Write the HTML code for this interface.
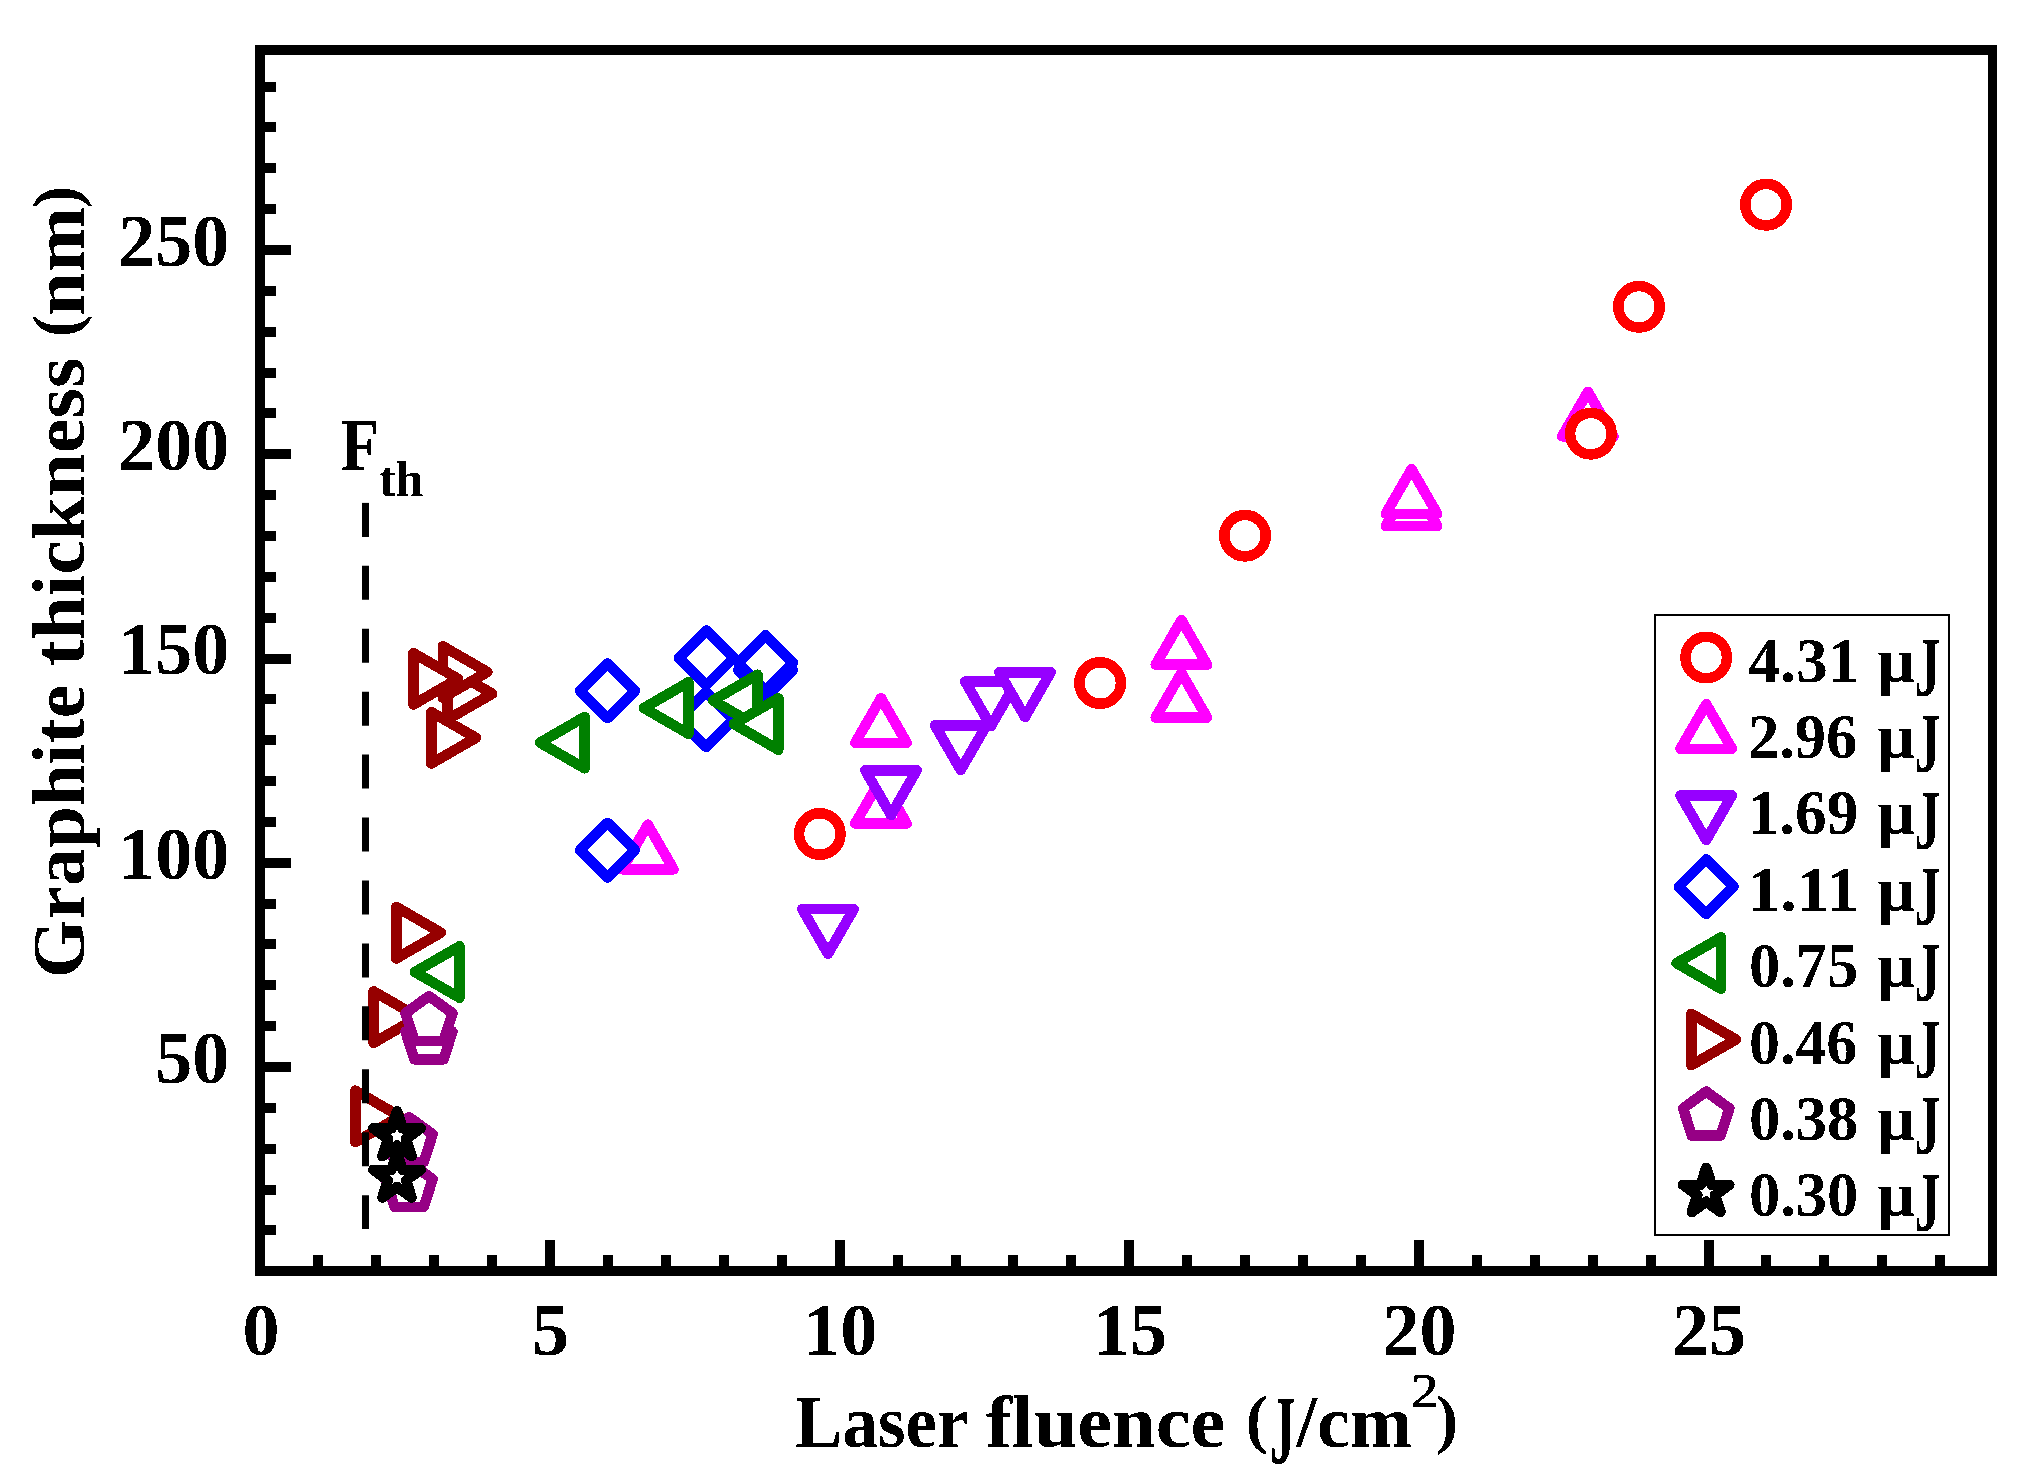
<!DOCTYPE html>
<html lang="en"><head><meta charset="utf-8"><title>Graphite thickness vs laser fluence</title>
<style>
html,body{margin:0;padding:0;background:#fff;}
body{width:2036px;height:1479px;overflow:hidden;}
svg{display:block;}
text{font-family:"Liberation Serif", "DejaVu Serif", serif;font-weight:bold;fill:#000;}
.m{fill:#fff;stroke-width:10.5;stroke-linejoin:round;stroke-linecap:round;shape-rendering:crispEdges;}
</style></head><body>
<svg width="2036" height="1479" viewBox="0 0 2036 1479">
<defs><filter id="bin" x="-5%" y="-5%" width="110%" height="110%" color-interpolation-filters="sRGB"><feComponentTransfer><feFuncA type="discrete" tableValues="0 1"/></feComponentTransfer></filter></defs>
<rect x="0" y="0" width="2036" height="1479" fill="#fff"/>
<g id="data">
<polygon class="m" stroke="#ff00ff" points="881.00,778.92 906.75,823.52 855.25,823.52"/>
<polygon class="m" stroke="#ff00ff" points="881.00,698.17 906.75,742.77 855.25,742.77"/>
<polygon class="m" stroke="#ff00ff" points="647.80,824.67 673.55,869.27 622.05,869.27"/>
<polygon class="m" stroke="#ff00ff" points="1181.40,672.97 1207.15,717.57 1155.65,717.57"/>
<polygon class="m" stroke="#ff00ff" points="1181.40,620.12 1207.15,664.72 1155.65,664.72"/>
<polygon class="m" stroke="#ff00ff" points="1411.50,481.47 1437.25,526.07 1385.75,526.07"/>
<polygon class="m" stroke="#ff00ff" points="1411.50,469.17 1437.25,513.77 1385.75,513.77"/>
<polygon class="m" stroke="#ff00ff" points="1587.90,391.77 1613.65,436.37 1562.15,436.37"/>
<circle class="m" stroke="#ff0000" cx="1766.00" cy="204.70" r="20.75"/>
<circle class="m" stroke="#ff0000" cx="1639.00" cy="306.80" r="20.75"/>
<circle class="m" stroke="#ff0000" cx="1590.90" cy="433.70" r="20.75"/>
<circle class="m" stroke="#ff0000" cx="1245.00" cy="535.70" r="20.75"/>
<circle class="m" stroke="#ff0000" cx="1100.10" cy="683.00" r="20.75"/>
<circle class="m" stroke="#ff0000" cx="819.80" cy="834.00" r="20.75"/>
<polygon class="m" stroke="#9600ff" points="828.00,953.73 853.75,909.13 802.25,909.13"/>
<polygon class="m" stroke="#9600ff" points="891.00,814.93 916.75,770.33 865.25,770.33"/>
<polygon class="m" stroke="#9600ff" points="960.70,769.98 986.45,725.38 934.95,725.38"/>
<polygon class="m" stroke="#9600ff" points="990.90,726.08 1016.65,681.48 965.15,681.48"/>
<polygon class="m" stroke="#9600ff" points="1025.00,716.93 1050.75,672.33 999.25,672.33"/>
<polygon class="m" stroke="#0000ff" points="607.50,663.40 634.90,690.80 607.50,718.20 580.10,690.80"/>
<polygon class="m" stroke="#0000ff" points="607.40,822.80 634.80,850.20 607.40,877.60 580.00,850.20"/>
<polygon class="m" stroke="#0000ff" points="706.20,692.10 733.60,719.50 706.20,746.90 678.80,719.50"/>
<polygon class="m" stroke="#0000ff" points="706.30,630.50 733.70,657.90 706.30,685.30 678.90,657.90"/>
<polygon class="m" stroke="#0000ff" points="765.50,642.60 792.90,670.00 765.50,697.40 738.10,670.00"/>
<polygon class="m" stroke="#0000ff" points="765.50,635.30 792.90,662.70 765.50,690.10 738.10,662.70"/>
<polygon class="m" stroke="#008000" points="540.02,742.60 584.62,716.85 584.62,768.35"/>
<polygon class="m" stroke="#008000" points="643.87,708.00 688.47,682.25 688.47,733.75"/>
<polygon class="m" stroke="#008000" points="712.87,700.50 757.47,674.75 757.47,726.25"/>
<polygon class="m" stroke="#008000" points="733.77,724.00 778.37,698.25 778.37,749.75"/>
<polygon class="m" stroke="#008000" points="414.97,972.00 459.57,946.25 459.57,997.75"/>
<polygon class="m" stroke="#960000" points="492.33,693.70 447.73,667.95 447.73,719.45"/>
<polygon class="m" stroke="#960000" points="487.43,672.00 442.83,646.25 442.83,697.75"/>
<polygon class="m" stroke="#960000" points="475.93,737.80 431.33,712.05 431.33,763.55"/>
<polygon class="m" stroke="#960000" points="458.03,678.80 413.43,653.05 413.43,704.55"/>
<polygon class="m" stroke="#960000" points="440.93,932.70 396.33,906.95 396.33,958.45"/>
<polygon class="m" stroke="#960000" points="418.23,1017.10 373.63,991.35 373.63,1042.85"/>
<polygon class="m" stroke="#960000" points="399.93,1116.40 355.33,1090.65 355.33,1142.15"/>
<polygon class="m" stroke="#960085" points="429.00,1014.70 452.49,1031.77 443.52,1059.38 414.48,1059.38 405.51,1031.77"/>
<polygon class="m" stroke="#960085" points="429.00,996.10 452.49,1013.17 443.52,1040.78 414.48,1040.78 405.51,1013.17"/>
<polygon class="m" stroke="#960085" points="409.20,1162.10 432.69,1179.17 423.72,1206.78 394.68,1206.78 385.71,1179.17"/>
<polygon class="m" stroke="#960085" points="409.20,1117.20 432.69,1134.27 423.72,1161.88 394.68,1161.88 385.71,1134.27"/>
<polygon class="m" stroke="#000000" points="397.00,1152.60 402.59,1169.80 420.68,1169.81 406.05,1180.44 411.64,1197.64 397.00,1187.01 382.36,1197.64 387.95,1180.44 373.32,1169.81 391.41,1169.80"/>
<polygon class="m" stroke="#000000" points="397.00,1111.10 402.59,1128.30 420.68,1128.31 406.05,1138.94 411.64,1156.14 397.00,1145.51 382.36,1156.14 387.95,1138.94 373.32,1128.31 391.41,1128.30"/>
</g>
<line x1="365.5" y1="502.9" x2="365.5" y2="1229" stroke="#000" stroke-width="7" stroke-dasharray="34 28.93"/>
<g id="axes" fill="#000" shape-rendering="crispEdges">
<rect x="255" y="45" width="1742" height="10"/>
<rect x="255" y="1266" width="1742" height="10"/>
<rect x="255" y="45" width="10" height="1231"/>
<rect x="1988" y="45" width="9" height="1231"/>
<rect x="313.32" y="1255" width="10" height="12"/>
<rect x="371.25" y="1255" width="10" height="12"/>
<rect x="429.17" y="1255" width="10" height="12"/>
<rect x="487.10" y="1255" width="10" height="12"/>
<rect x="545.02" y="1240" width="10" height="27"/>
<rect x="602.95" y="1255" width="10" height="12"/>
<rect x="660.88" y="1255" width="10" height="12"/>
<rect x="718.80" y="1255" width="10" height="12"/>
<rect x="776.72" y="1255" width="10" height="12"/>
<rect x="834.65" y="1240" width="10" height="27"/>
<rect x="892.57" y="1255" width="10" height="12"/>
<rect x="950.50" y="1255" width="10" height="12"/>
<rect x="1008.42" y="1255" width="10" height="12"/>
<rect x="1066.35" y="1255" width="10" height="12"/>
<rect x="1124.28" y="1240" width="10" height="27"/>
<rect x="1182.20" y="1255" width="10" height="12"/>
<rect x="1240.12" y="1255" width="10" height="12"/>
<rect x="1298.05" y="1255" width="10" height="12"/>
<rect x="1355.97" y="1255" width="10" height="12"/>
<rect x="1413.90" y="1240" width="10" height="27"/>
<rect x="1471.82" y="1255" width="10" height="12"/>
<rect x="1529.75" y="1255" width="10" height="12"/>
<rect x="1587.67" y="1255" width="10" height="12"/>
<rect x="1645.60" y="1255" width="10" height="12"/>
<rect x="1703.53" y="1240" width="10" height="27"/>
<rect x="1761.45" y="1255" width="10" height="12"/>
<rect x="1819.38" y="1255" width="10" height="12"/>
<rect x="1877.30" y="1255" width="10" height="12"/>
<rect x="1935.22" y="1255" width="10" height="12"/>
<rect x="264" y="1225.40" width="12" height="10"/>
<rect x="264" y="1184.55" width="12" height="10"/>
<rect x="264" y="1143.70" width="12" height="10"/>
<rect x="264" y="1102.85" width="12" height="10"/>
<rect x="264" y="1062.00" width="27" height="10"/>
<rect x="264" y="1021.15" width="12" height="10"/>
<rect x="264" y="980.30" width="12" height="10"/>
<rect x="264" y="939.45" width="12" height="10"/>
<rect x="264" y="898.60" width="12" height="10"/>
<rect x="264" y="857.75" width="27" height="10"/>
<rect x="264" y="816.90" width="12" height="10"/>
<rect x="264" y="776.05" width="12" height="10"/>
<rect x="264" y="735.20" width="12" height="10"/>
<rect x="264" y="694.35" width="12" height="10"/>
<rect x="264" y="653.50" width="27" height="10"/>
<rect x="264" y="612.65" width="12" height="10"/>
<rect x="264" y="571.80" width="12" height="10"/>
<rect x="264" y="530.95" width="12" height="10"/>
<rect x="264" y="490.10" width="12" height="10"/>
<rect x="264" y="449.25" width="27" height="10"/>
<rect x="264" y="408.40" width="12" height="10"/>
<rect x="264" y="367.55" width="12" height="10"/>
<rect x="264" y="326.70" width="12" height="10"/>
<rect x="264" y="285.85" width="12" height="10"/>
<rect x="264" y="245.00" width="27" height="10"/>
<rect x="264" y="204.15" width="12" height="10"/>
<rect x="264" y="163.30" width="12" height="10"/>
<rect x="264" y="122.45" width="12" height="10"/>
<rect x="264" y="81.60" width="12" height="10"/>
</g>
<g id="ticklabels" font-size="74" filter="url(#bin)">
<text x="261.0" y="1354.5" text-anchor="middle">0</text>
<text x="550.6" y="1354.5" text-anchor="middle">5</text>
<text x="840.2" y="1354.5" text-anchor="middle">10</text>
<text x="1129.9" y="1354.5" text-anchor="middle">15</text>
<text x="1419.5" y="1354.5" text-anchor="middle">20</text>
<text x="1709.1" y="1354.5" text-anchor="middle">25</text>
<text x="229.3" y="1082.8" text-anchor="end">50</text>
<text x="229.3" y="878.5" text-anchor="end">100</text>
<text x="229.3" y="674.3" text-anchor="end">150</text>
<text x="229.3" y="470.1" text-anchor="end">200</text>
<text x="229.3" y="265.8" text-anchor="end">250</text>
</g>
<g id="xtitle" filter="url(#bin)"><text><tspan x="795.33" y="1446.70" font-size="73" textLength="173.03" lengthAdjust="spacingAndGlyphs">Laser</tspan> <tspan x="985.73" y="1446.70" font-size="73" textLength="239.62" lengthAdjust="spacingAndGlyphs">fluence</tspan> <tspan x="1245.88" y="1440.70" font-size="65.5" textLength="21.94" lengthAdjust="spacingAndGlyphs">(</tspan><tspan x="1269.94" y="1462.50" font-size="97.5" textLength="25.07" lengthAdjust="spacingAndGlyphs">J</tspan><tspan x="1296.20" y="1446.70" font-size="73" textLength="115.83" lengthAdjust="spacingAndGlyphs">/cm</tspan><tspan x="1410.75" y="1407.00" font-size="49" textLength="27.56" lengthAdjust="spacingAndGlyphs" font-weight="normal" stroke="#000" stroke-width="0.8">2</tspan><tspan x="1435.98" y="1440.70" font-size="65.5" textLength="22.07" lengthAdjust="spacingAndGlyphs">)</tspan></text></g>
<g filter="url(#bin)"><g id="ytitle" transform="translate(83.5,975) rotate(-90)"><text><tspan x="-3.13" y="0.00" font-size="73" textLength="293.27" lengthAdjust="spacingAndGlyphs">Graphite</tspan> <tspan x="308.93" y="0.00" font-size="73" textLength="308.43" lengthAdjust="spacingAndGlyphs">thickness</tspan> <tspan x="637.65" y="-6.00" font-size="65.5" textLength="22.52" lengthAdjust="spacingAndGlyphs">(</tspan><tspan x="659.04" y="0.00" font-size="73" textLength="109.39" lengthAdjust="spacingAndGlyphs">nm</tspan><tspan x="766.83" y="-6.00" font-size="65.5" textLength="22.58" lengthAdjust="spacingAndGlyphs">)</tspan></text></g></g>
<g id="fth" filter="url(#bin)"><text><tspan x="340.94" y="470.00" font-size="73" textLength="38.13" lengthAdjust="spacingAndGlyphs">F</tspan><tspan x="378.81" y="495.80" font-size="51" textLength="44.74" lengthAdjust="spacingAndGlyphs">th</tspan></text></g>
<rect x="1655" y="615" width="294" height="620" fill="#fff" stroke="#000" stroke-width="2" shape-rendering="crispEdges"/>
<g id="legend-markers">
<circle class="m" stroke="#ff0000" cx="1706.20" cy="657.50" r="20.75"/>
<polygon class="m" stroke="#ff00ff" points="1706.20,704.17 1731.95,748.77 1680.45,748.77"/>
<polygon class="m" stroke="#9600ff" points="1706.20,840.03 1731.95,795.43 1680.45,795.43"/>
<polygon class="m" stroke="#0000ff" points="1706.20,859.30 1733.60,886.70 1706.20,914.10 1678.80,886.70"/>
<polygon class="m" stroke="#008000" points="1676.47,963.10 1721.07,937.35 1721.07,988.85"/>
<polygon class="m" stroke="#960000" points="1735.93,1039.50 1691.33,1013.75 1691.33,1065.25"/>
<polygon class="m" stroke="#960085" points="1706.20,1091.55 1729.36,1108.38 1720.51,1135.60 1691.89,1135.60 1683.04,1108.38"/>
<polygon class="m" stroke="#000000" points="1706.20,1167.90 1711.68,1184.76 1729.41,1184.76 1715.06,1195.18 1720.54,1212.04 1706.20,1201.62 1691.86,1212.04 1697.34,1195.18 1682.99,1184.76 1700.72,1184.76"/>
</g>
<g id="legend-text" filter="url(#bin)">
<text><tspan x="1748.28" y="681.50" font-size="62.5" textLength="111.15" lengthAdjust="spacingAndGlyphs">4.31</tspan> <tspan x="1877.24" y="681.50" font-size="62.5" textLength="38.35" lengthAdjust="spacingAndGlyphs">µ</tspan><tspan x="1914.22" y="695.70" font-size="85.0" textLength="26.33" lengthAdjust="spacingAndGlyphs">J</tspan></text>
<text><tspan x="1747.90" y="757.90" font-size="62.5" textLength="109.48" lengthAdjust="spacingAndGlyphs">2.96</tspan> <tspan x="1877.24" y="757.90" font-size="62.5" textLength="38.35" lengthAdjust="spacingAndGlyphs">µ</tspan><tspan x="1914.22" y="772.10" font-size="85.0" textLength="26.33" lengthAdjust="spacingAndGlyphs">J</tspan></text>
<text><tspan x="1747.64" y="834.30" font-size="62.5" textLength="110.77" lengthAdjust="spacingAndGlyphs">1.69</tspan> <tspan x="1877.24" y="834.30" font-size="62.5" textLength="38.35" lengthAdjust="spacingAndGlyphs">µ</tspan><tspan x="1914.22" y="848.50" font-size="85.0" textLength="26.33" lengthAdjust="spacingAndGlyphs">J</tspan></text>
<text><tspan x="1747.43" y="910.70" font-size="62.5" textLength="111.67" lengthAdjust="spacingAndGlyphs">1.11</tspan> <tspan x="1877.24" y="910.70" font-size="62.5" textLength="38.35" lengthAdjust="spacingAndGlyphs">µ</tspan><tspan x="1914.22" y="924.90" font-size="85.0" textLength="26.33" lengthAdjust="spacingAndGlyphs">J</tspan></text>
<text><tspan x="1748.90" y="987.10" font-size="62.5" textLength="109.48" lengthAdjust="spacingAndGlyphs">0.75</tspan> <tspan x="1877.24" y="987.10" font-size="62.5" textLength="38.35" lengthAdjust="spacingAndGlyphs">µ</tspan><tspan x="1914.22" y="1001.30" font-size="85.0" textLength="26.33" lengthAdjust="spacingAndGlyphs">J</tspan></text>
<text><tspan x="1748.92" y="1063.50" font-size="62.5" textLength="108.45" lengthAdjust="spacingAndGlyphs">0.46</tspan> <tspan x="1877.24" y="1063.50" font-size="62.5" textLength="38.35" lengthAdjust="spacingAndGlyphs">µ</tspan><tspan x="1914.22" y="1077.70" font-size="85.0" textLength="26.33" lengthAdjust="spacingAndGlyphs">J</tspan></text>
<text><tspan x="1748.90" y="1139.90" font-size="62.5" textLength="109.48" lengthAdjust="spacingAndGlyphs">0.38</tspan> <tspan x="1877.24" y="1139.90" font-size="62.5" textLength="38.35" lengthAdjust="spacingAndGlyphs">µ</tspan><tspan x="1914.22" y="1154.10" font-size="85.0" textLength="26.33" lengthAdjust="spacingAndGlyphs">J</tspan></text>
<text><tspan x="1748.90" y="1216.30" font-size="62.5" textLength="109.48" lengthAdjust="spacingAndGlyphs">0.30</tspan> <tspan x="1877.24" y="1216.30" font-size="62.5" textLength="38.35" lengthAdjust="spacingAndGlyphs">µ</tspan><tspan x="1914.22" y="1230.50" font-size="85.0" textLength="26.33" lengthAdjust="spacingAndGlyphs">J</tspan></text>
</g>
</svg>
</body></html>
